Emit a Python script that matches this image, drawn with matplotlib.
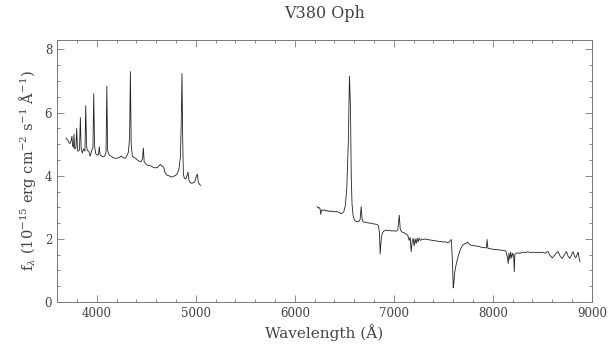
import matplotlib
matplotlib.use('Agg')
import matplotlib.pyplot as plt
from matplotlib.ticker import MultipleLocator

# blue arm of the spectrum (wavelength in A, flux in 1e-15 erg/cm2/s/A)
blue_wave = [3690, 3700, 3710, 3720, 3730, 3740, 3750, 3756, 3765, 3771, 3777, 3790,
             3798, 3806, 3815, 3826, 3835, 3843, 3855, 3866, 3881, 3889, 3897, 3905,
             3920, 3934, 3945, 3962, 3970, 3978, 3990, 4005, 4018, 4026, 4034, 4050,
             4065, 4080, 4094, 4102, 4110, 4125, 4145, 4165, 4185, 4205, 4225, 4245,
             4265, 4285, 4300, 4320, 4332, 4340, 4348, 4360, 4375, 4390, 4410, 4430,
             4450, 4463, 4471, 4479, 4495, 4515, 4535, 4555, 4575, 4595, 4615, 4630,
             4645, 4660, 4675, 4690, 4710, 4730, 4750, 4770, 4790, 4810, 4830, 4845,
             4853, 4861, 4868, 4875, 4885, 4900, 4912, 4922, 4932, 4945, 4960, 4975,
             4990, 5005, 5016, 5026, 5040, 5050]
blue_flux = [5.19, 5.15, 5.12, 5.05, 5.02, 5.10, 5.25, 4.95, 4.90, 5.32, 4.85, 4.88,
             5.50, 4.80, 4.78, 4.82, 5.84, 4.85, 4.72, 4.85, 4.78, 6.22, 4.95, 4.80,
             4.78, 4.62, 4.75, 4.90, 6.60, 4.95, 4.70, 4.65, 4.68, 4.92, 4.66, 4.62,
             4.60, 4.62, 4.75, 6.84, 4.80, 4.66, 4.62, 4.58, 4.55, 4.56, 4.58, 4.62,
             4.58, 4.55, 4.60, 4.75, 5.20, 7.30, 5.00, 4.62, 4.58, 4.56, 4.50, 4.46,
             4.45, 4.55, 4.88, 4.45, 4.38, 4.33, 4.32, 4.30, 4.26, 4.25, 4.27, 4.32,
             4.36, 4.30, 4.28, 4.10, 4.02, 4.00, 3.96, 3.98, 4.00, 4.05, 4.20, 4.60,
             5.60, 7.24, 5.20, 4.05, 3.92, 3.90, 4.00, 4.12, 3.85, 3.78, 3.76, 3.78,
             3.80, 3.98, 4.05, 3.80, 3.72, 3.70]

# red arm
red_wave = [6225, 6235, 6245, 6255, 6262, 6270, 6285, 6300, 6315, 6330, 6345, 6360,
            6375, 6390, 6405, 6420, 6435, 6450, 6465, 6480, 6495, 6510, 6525, 6540,
            6552, 6562, 6570, 6578, 6588, 6600, 6615, 6630, 6645, 6660, 6670, 6680,
            6690, 6710, 6730, 6750, 6770, 6790, 6810, 6830, 6845, 6855, 6862, 6868,
            6875, 6885, 6900, 6920, 6940, 6960, 6980, 7000, 7020, 7040, 7055, 7065,
            7080, 7100, 7120, 7140, 7155, 7165, 7175, 7185, 7195, 7205, 7215, 7225,
            7235, 7245, 7255, 7270, 7285, 7300, 7320, 7340, 7360, 7380, 7400, 7420,
            7440, 7460, 7480, 7500, 7520, 7540, 7560, 7580, 7592, 7600, 7606, 7615,
            7630, 7650, 7670, 7690, 7710, 7730, 7745, 7760, 7780, 7800, 7820, 7840,
            7860, 7880, 7900, 7920, 7935, 7942, 7950, 7970, 7990, 8010, 8030, 8050,
            8070, 8090, 8110, 8130, 8145, 8155, 8163, 8172, 8180, 8190, 8200, 8210,
            8216, 8222, 8235, 8250, 8270, 8290, 8310, 8330, 8350, 8370, 8390, 8410,
            8430, 8450, 8470, 8490, 8510, 8530, 8545, 8558, 8575, 8600, 8615, 8640,
            8659, 8680, 8700, 8720, 8743, 8760, 8777, 8795, 8810, 8825, 8837, 8850,
            8861, 8870, 8880]
red_flux = [3.02, 2.98, 3.00, 2.95, 2.78, 2.92, 2.90, 2.92, 2.88, 2.90, 2.87, 2.89,
            2.86, 2.88, 2.86, 2.87, 2.85, 2.84, 2.80, 2.82, 2.86, 3.05, 3.60, 5.00,
            7.15, 6.20, 4.00, 3.10, 2.75, 2.62, 2.56, 2.54, 2.55, 2.62, 3.02, 2.62,
            2.54, 2.53, 2.52, 2.50, 2.50, 2.48, 2.47, 2.46, 2.42, 2.20, 1.52, 1.80,
            2.05, 2.20, 2.25, 2.28, 2.26, 2.27, 2.25, 2.26, 2.24, 2.28, 2.75, 2.30,
            2.22, 2.20, 2.16, 2.12, 1.95, 2.05, 1.60, 1.90, 2.02, 1.78, 2.00, 1.85,
            2.02, 1.90, 2.03, 1.95, 2.00, 1.98, 2.00, 1.98, 1.97, 1.96, 1.95, 1.94,
            1.93, 1.92, 1.92, 1.90, 1.91, 1.88, 1.90, 1.98, 1.30, 0.45, 0.60, 0.95,
            1.20, 1.45, 1.65, 1.78, 1.84, 1.86, 1.90, 1.84, 1.80, 1.79, 1.78, 1.77,
            1.76, 1.74, 1.73, 1.72, 1.72, 1.98, 1.70, 1.69, 1.68, 1.67, 1.66, 1.66,
            1.65, 1.64, 1.63, 1.62, 1.45, 1.22, 1.55, 1.35, 1.58, 1.40, 1.55, 1.48,
            0.96, 1.50, 1.55, 1.56, 1.54, 1.57, 1.58, 1.57, 1.59, 1.58, 1.57, 1.58,
            1.57, 1.56, 1.58, 1.56, 1.57, 1.55, 1.58, 1.60, 1.48, 1.40, 1.45, 1.55,
            1.60, 1.45, 1.38, 1.48, 1.60, 1.45, 1.38, 1.50, 1.60, 1.45, 1.40, 1.50,
            1.58, 1.40, 1.28]

text_col = '#444444'
plt.rcParams['font.family'] = ['DejaVu Serif']
plt.rcParams['mathtext.fontset'] = 'dejavuserif'

fig = plt.figure(figsize=(6.14, 3.48), dpi=100)
ax = fig.add_axes([0.093, 0.132, 0.871, 0.753])

ax.plot(blue_wave, blue_flux, color='#222222', linewidth=0.6)
ax.plot(red_wave, red_flux, color='#222222', linewidth=0.6)

ax.set_xlim(3600, 9000)
ax.set_ylim(0, 8.3)
ax.xaxis.set_major_locator(MultipleLocator(1000))
ax.xaxis.set_minor_locator(MultipleLocator(200))
ax.yaxis.set_major_locator(MultipleLocator(2))
ax.yaxis.set_minor_locator(MultipleLocator(0.5))
ax.tick_params(which='both', direction='in', top=True, right=True,
               colors='#777777', labelcolor=text_col, labelsize=8.5, width=0.6)
ax.tick_params(which='major', length=5)
ax.tick_params(which='minor', length=2.5)
for s in ax.spines.values():
    s.set_color('#777777')
    s.set_linewidth(0.7)

ax.set_title('V380 Oph', fontsize=11.5, color=text_col, pad=16)
ax.set_xlabel('Wavelength (Å)', fontsize=11, color=text_col, labelpad=3)
ax.set_ylabel(r'f$_\lambda$ (10$^{-15}$ erg cm$^{-2}$ s$^{-1}$ Å$^{-1}$)',
              fontsize=10.5, color=text_col, labelpad=5)

plt.savefig('out.png', dpi=100)
